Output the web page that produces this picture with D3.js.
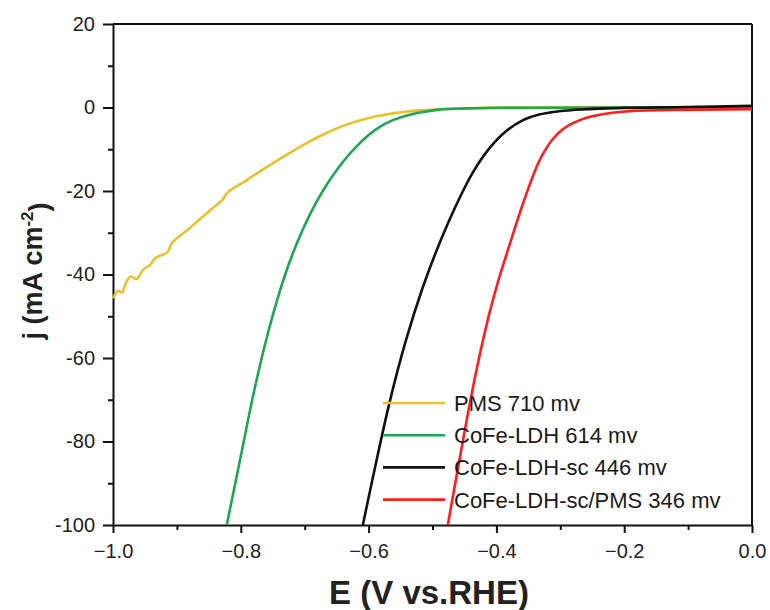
<!DOCTYPE html>
<html>
<head>
<meta charset="utf-8">
<script src="https://cdn.jsdelivr.net/npm/d3@7"></script>
<style>
  body { margin: 0; background: #fff; }
  svg { display: block; font-family: "Liberation Sans", Arial, sans-serif; }
</style>
</head>
<body>
<div id="chart"></div>
<script>
// LSV data: potential E (V vs. RHE) and current density j (mA cm-2)
const pmsE = [-1.0, -0.992, -0.986, -0.979, -0.972, -0.963, -0.953, -0.942, -0.934, -0.914, -0.908,
  -0.88, -0.848, -0.828, -0.821, -0.795, -0.77, -0.744, -0.718, -0.692, -0.666, -0.64, -0.614,
  -0.588, -0.562, -0.536, -0.51, -0.48, -0.45, -0.4, -0.35, 0.0];
const pmsJ = [-45.7, -43.9, -44.3, -41.7, -40.5, -41.1, -38.9, -37.7, -36.1, -34.5, -32.5,
  -28.9, -24.6, -22.0, -20.4, -17.8, -15.3, -12.8, -10.4, -8.1, -6.1, -4.4, -3.1,
  -2.1, -1.4, -0.9, -0.6, -0.35, -0.2, -0.05, 0.0, 0.1];

const ldhE = [-0.822, -0.80, -0.78, -0.76, -0.74, -0.72, -0.70, -0.68, -0.66, -0.64, -0.62,
  -0.60, -0.58, -0.56, -0.54, -0.52, -0.49, -0.45, -0.40, 0.0];
const ldhJ = [-100, -83.5, -68.5, -55.5, -44.5, -35.5, -28.2, -22.2, -17.2, -13.0, -9.5,
  -6.6, -4.4, -2.9, -1.9, -1.2, -0.5, -0.2, -0.1, 0.0];

const scE = [-0.609, -0.593, -0.567, -0.541, -0.515, -0.489, -0.463, -0.437, -0.411, -0.385,
  -0.359, -0.333, -0.307, -0.28, -0.255, -0.2, -0.1, 0.0];
const scJ = [-100, -88.4, -70.5, -55.5, -43, -32.5, -23.4, -15.6, -9.8, -5.7,
  -3.1, -1.7, -1.0, -0.6, -0.4, -0.1, 0.1, 0.4];

const scPmsE = [-0.476, -0.463, -0.45, -0.437, -0.424, -0.411, -0.398, -0.385, -0.372, -0.359,
  -0.346, -0.333, -0.322, -0.312, -0.296, -0.281, -0.255, -0.203, -0.124, 0.0];
const scPmsJ = [-100, -88.8, -77.8, -67.3, -57.8, -49.3, -42.0, -35.6, -29.3, -23.3,
  -17.7, -12.8, -9.8, -7.6, -5.2, -3.8, -2.3, -1.0, -0.6, -0.4];

const seriesNames = ["PMS 710 mv", "CoFe-LDH 614 mv", "CoFe-LDH-sc 446 mv", "CoFe-LDH-sc/PMS 346 mv"];
const seriesColors = ["#e6c22f", "#1fa653", "#111111", "#ff1e1e"];

const xTicks = [-1.0, -0.8, -0.6, -0.4, -0.2, 0.0];
const xMinor = [-0.9, -0.7, -0.5, -0.3, -0.1];
const yTicks = [-100, -80, -60, -40, -20, 0, 20];
const yMinor = [-90, -70, -50, -30, -10, 10];

const width = 770, height = 610;
const margin = {left: 113, right: 18, top: 24, bottom: 85};

let svg = d3.select("#chart")
    .append("svg")
    .attr("width", width)
    .attr("height", height);

let x = d3.scaleLinear()
    .domain([-1.0, 0.0])
    .range([margin.left, width - margin.right]);

let y = d3.scaleLinear()
    .domain([-100, 20])
    .range([height - margin.bottom, margin.top]);

// minor ticks first, then major with labels
svg.append("g")
    .attr("transform", `translate(0, ${y(-100)})`)
    .call(d3.axisBottom(x).tickValues(xMinor).tickSize(5).tickSizeOuter(0).tickFormat(""))
    .call(g => g.select(".domain").remove());

svg.append("g")
    .attr("transform", `translate(${x(-1)}, 0)`)
    .call(d3.axisLeft(y).tickValues(yMinor).tickSize(5).tickSizeOuter(0).tickFormat(""))
    .call(g => g.select(".domain").remove());

let xAxis = svg.append("g")
    .attr("transform", `translate(0, ${y(-100)})`)
    .call(d3.axisBottom(x).tickValues(xTicks).tickSize(8).tickSizeOuter(0).tickPadding(11)
        .tickFormat(d3.format(".1f")));

let yAxis = svg.append("g")
    .attr("transform", `translate(${x(-1)}, 0)`)
    .call(d3.axisLeft(y).tickValues(yTicks).tickSize(10).tickSizeOuter(0).tickPadding(8)
        .tickFormat(d => d));

[xAxis, yAxis].forEach(function(g) {
    g.selectAll("text")
        .style("font-size", "20px")
        .attr("fill", "#222")
        .style("font-family", "'Liberation Sans', Arial, sans-serif");
    g.selectAll("line, path").attr("stroke", "#111").attr("stroke-width", 2);
});
svg.selectAll("g line").attr("stroke", "#111").attr("stroke-width", 2);

// frame top and right
svg.append("line")
    .attr("x1", x(-1)).attr("x2", x(0))
    .attr("y1", y(20)).attr("y2", y(20))
    .attr("stroke", "#111").attr("stroke-width", 2);
svg.append("line")
    .attr("x1", x(0)).attr("x2", x(0))
    .attr("y1", y(20)).attr("y2", y(-100))
    .attr("stroke", "#111").attr("stroke-width", 2);

// curves
let allE = [pmsE, ldhE, scE, scPmsE];
let allJ = [pmsJ, ldhJ, scJ, scPmsJ];

let line = d3.line()
    .x(d => x(d[0]))
    .y(d => y(d[1]))
    .curve(d3.curveCatmullRom.alpha(0.5));

let curves = svg.append("g");
allE.forEach(function(es, i) {
    let pts = es.map((e, k) => [e, allJ[i][k]]);
    curves.append("path")
        .attr("d", line(pts))
        .attr("fill", "none")
        .attr("stroke", seriesColors[i])
        .attr("stroke-width", 2.6)
        .attr("stroke-linejoin", "round");
});

// legend
let legend = svg.append("g").attr("transform", "translate(383, 403)");
seriesNames.forEach(function(name, i) {
    let row = legend.append("g").attr("transform", `translate(0, ${i * 32.2})`);
    row.append("line")
        .attr("x1", 0).attr("x2", 62)
        .attr("y1", 0).attr("y2", 0)
        .attr("stroke", seriesColors[i])
        .attr("stroke-width", 2.6);
    row.append("text")
        .attr("x", 71)
        .attr("dy", "0.36em")
        .style("font-size", "22px")
        .attr("fill", "#1a1a1a")
        .text(name);
});

// axis titles
svg.append("text")
    .attr("x", 429)
    .attr("y", 604)
    .style("text-anchor", "middle")
    .style("font-size", "33px")
    .attr("font-weight", "bold")
    .attr("fill", "#222")
    .text("E (V vs.RHE)");

let yTitle = svg.append("text")
    .attr("transform", "translate(42, 271) rotate(-90)")
    .style("text-anchor", "middle")
    .style("font-size", "27px")
    .attr("font-weight", "bold")
    .attr("fill", "#222");
yTitle.append("tspan").text("j (mA cm");
yTitle.append("tspan").attr("dy", "-0.55em").style("font-size", "17px").text("-2");
yTitle.append("tspan").attr("dy", "0.55em").text(")");
</script>
</body>
</html>
